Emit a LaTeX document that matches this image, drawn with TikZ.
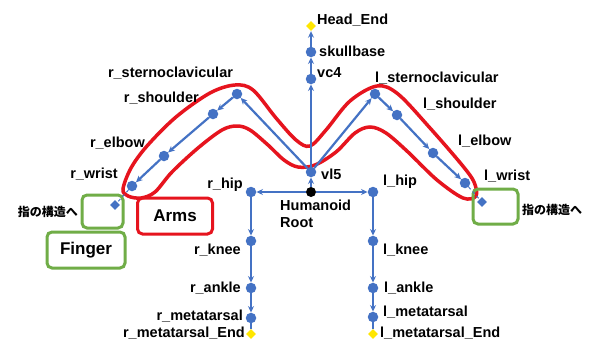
\documentclass[tikz,border=0pt]{standalone}
\usepackage{fontspec}
\setmainfont{Liberation Sans}
\newfontfamily\jpfont{Noto Sans CJK JP}
\usetikzlibrary{arrows.meta,shapes.geometric}
\definecolor{bblue}{RGB}{68,114,196}
\definecolor{rred}{RGB}{230,20,30}
\definecolor{ggreen}{RGB}{112,173,71}
\definecolor{yyel}{RGB}{255,230,0}
\begin{document}
\begin{tikzpicture}[x=1pt,y=-1pt,
  jdot/.style={circle,fill=bblue,minimum size=10.5pt,inner sep=0pt},
  rootdot/.style={circle,fill=black,minimum size=10pt,inner sep=0pt},
  enddot/.style={diamond,fill=yyel,minimum size=10pt,inner sep=0pt},
  fdiam/.style={diamond,fill=bblue,minimum size=10pt,inner sep=0pt},
  con/.style={draw=bblue,line width=2.2pt,-{Stealth[length=6.5pt,width=6pt]}},
  thin con/.style={draw=bblue,line width=1pt,dashed},
  lbl/.style={inner sep=0pt,font=\fontsize{14.5}{17}\selectfont\bfseries},
  jlbl/.style={inner sep=0pt,font=\fontsize{12}{14}\selectfont\jpfont\bfseries},
  redbox/.style={draw=rred,line width=3pt,rounded corners=5pt},
  greenbox/.style={draw=ggreen,line width=3pt,rounded corners=5pt},
  big/.style={inner sep=0pt,font=\fontsize{17}{20}\selectfont\bfseries}]
\useasboundingbox (0,0) rectangle (591,343);
\fill[white] (0,0) rectangle (591,343);

% red outline around arms
\draw[rred,line width=3.5pt] plot[smooth cycle,tension=0.55] coordinates {
 (123,189) (131,168) (147,146) (176,117) (210,93) (235,85) (253,90) (276,118)
 (296,140) (310,146) (326,130) (350,101) (377,86) (398,94) (430,128) (462,165)
 (474,182) (476,196) (463,198) (437,180) (408,152) (386,133) (370,127) (355,133)
 (336,152) (315,165) (298,167) (284,160) (268,145) (250,130) (237,126) (222,130)
 (198,148) (172,172) (155,192) (141,198) (128,196)};

% boxes
\node[redbox,minimum width=75pt,minimum height=36pt] (armsbox) at (175,216) {};
\node[big] (arms) at (175,216) {Arms};
\node[greenbox,minimum width=41pt,minimum height=33pt] (rfbox) at (102.5,211.5) {};
\node[greenbox,minimum width=78pt,minimum height=36pt] (fingbox) at (86,250) {};
\node[big] (finger) at (86,250) {Finger};
\node[greenbox,minimum width=45pt,minimum height=35pt] (lfbox) at (495.5,206.5) {};

% joints
\node[rootdot] (root) at (311,192) {};
\node[jdot] (vl5) at (311,172) {};
\node[jdot] (vc4) at (311,79) {};
\node[jdot] (skull) at (311,52) {};
\node[enddot] (head) at (311,26) {};

\node[jdot] (rsc) at (237,94) {};
\node[jdot] (rsh) at (213,114) {};
\node[jdot] (rel) at (164,156) {};
\node[jdot] (rwr) at (132,186) {};
\node[fdiam] (rfd) at (115,205) {};

\node[jdot] (lsc) at (375,94) {};
\node[jdot] (lsh) at (397,115) {};
\node[jdot] (lel) at (433,153) {};
\node[jdot] (lwr) at (465,183) {};
\node[fdiam] (lfd) at (482,202) {};

\node[jdot] (rhip) at (251,192) {};
\node[jdot] (rkn) at (251,241) {};
\node[jdot] (ran) at (251,288) {};
\node[jdot] (rmt) at (251,318) {};
\node[enddot] (rend) at (251,334) {};

\node[jdot] (lhip) at (373,192) {};
\node[jdot] (lkn) at (373,241) {};
\node[jdot] (lan) at (373,288) {};
\node[jdot] (lmt) at (373,317) {};
\node[enddot] (lend) at (373,334) {};

% connectors
\draw[con] (root) -- (vl5);
\draw[con] (vl5) -- (vc4);
\draw[con] (vc4) -- (skull);
\draw[con] (skull) -- (head);
\draw[con] (vl5) -- (rsc);
\draw[con] (rsc) -- (rsh);
\draw[con] (rsh) -- (rel);
\draw[con] (rel) -- (rwr);
\draw[thin con] (rwr) -- (rfd);
\draw[con] (vl5) -- (lsc);
\draw[con] (lsc) -- (lsh);
\draw[con] (lsh) -- (lel);
\draw[con] (lel) -- (lwr);
\draw[thin con] (lwr) -- (lfd);
\draw[con] (root) -- (rhip);
\draw[con] (rhip) -- (rkn);
\draw[con] (rkn) -- (ran);
\draw[con] (ran) -- (rmt);
\draw[draw=bblue,line width=2.2pt] (rmt) -- (rend);
\draw[con] (root) -- (lhip);
\draw[con] (lhip) -- (lkn);
\draw[con] (lkn) -- (lan);
\draw[con] (lan) -- (lmt);
\draw[draw=bblue,line width=2.2pt] (lmt) -- (lend);

% labels
\node[lbl,anchor=west] (tHead) at (317,20) {Head\_End};
\node[lbl,anchor=west] (tSkull) at (319,51) {skullbase};
\node[lbl,anchor=west] (tVc4) at (317,73) {vc4};
\node[lbl,anchor=west] (tVl5) at (321,174) {vl5};
\node[lbl,anchor=west,align=left] (tRoot) at (280,214) {Humanoid\\Root};
\node[lbl] (tRsc) at (170.5,73) {r\_sternoclavicular};
\node[lbl,anchor=east] (tRsh) at (199,98) {r\_shoulder};
\node[lbl,anchor=east] (tRel) at (145,143) {r\_elbow};
\node[lbl,anchor=east] (tRwr) at (118,174) {r\_wrist};
\node[lbl,anchor=west] (tLsc) at (375,78) {l\_sternoclavicular};
\node[lbl,anchor=west] (tLsh) at (423,104) {l\_shoulder};
\node[lbl,anchor=west] (tLel) at (458,141) {l\_elbow};
\node[lbl,anchor=west] (tLwr) at (484,176) {l\_wrist};
\node[lbl,anchor=east] (tRhip) at (243,185) {r\_hip};
\node[lbl,anchor=east] (tRkn) at (241,250) {r\_knee};
\node[lbl,anchor=east] (tRan) at (241,288) {r\_ankle};
\node[lbl,anchor=east] (tRmt) at (243,316) {r\_metatarsal};
\node[lbl,anchor=east] (tRend) at (245,333) {r\_metatarsal\_End};
\node[lbl,anchor=west] (tLhip) at (383,182) {l\_hip};
\node[lbl,anchor=west] (tLkn) at (383,250) {l\_knee};
\node[lbl,anchor=west] (tLan) at (384,288) {l\_ankle};
\node[lbl,anchor=west] (tLmt) at (383,312) {l\_metatarsal};
\node[lbl,anchor=west] (tLend) at (380,333) {l\_metatarsal\_End};
\node[jlbl,anchor=east] (tRj) at (78,212) {指の構造へ};
\node[jlbl,anchor=west] (tLj) at (522,210) {指の構造へ};
\end{tikzpicture}
\end{document}
